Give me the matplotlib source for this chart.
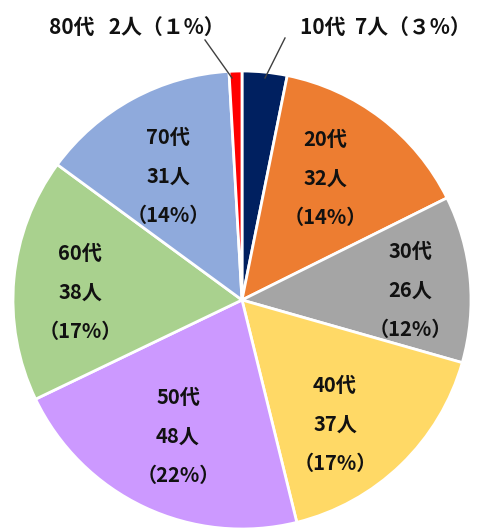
import matplotlib.pyplot as plt

plt.rcParams['font.family'] = ['Noto Sans CJK JP', 'DejaVu Sans']

ages = ["10代", "20代", "30代", "40代", "50代", "60代", "70代", "80代"]
counts = [7, 32, 26, 37, 48, 38, 31, 2]
pcts = [3, 14, 12, 17, 22, 17, 14, 1]
outer_pct = ["３", "", "", "", "", "", "", "１"]
colors = ["#002060", "#ED7D31", "#A5A5A5", "#FFD966",
          "#CC99FF", "#A9D18E", "#8FAADC", "#FF0000"]

W, H = 489, 529
fig = plt.figure(figsize=(W / 100, H / 100), dpi=100)
ax = fig.add_axes([0, 0, 1, 1])

cx, cy, r = 242, 300, 229
# y axis is inverted below, so counterclock=True draws clockwise on screen
ax.pie(counts, colors=colors, startangle=-90, counterclock=True,
       center=(cx, cy), radius=r, frame=True,
       wedgeprops=dict(edgecolor='white', linewidth=2))
ax.set_xlim(0, W)
ax.set_ylim(H, 0)
ax.set_aspect('equal')
ax.axis('off')

# inner labels (center x, first line y) in pixels
inner_pos = {1: (325, 140), 2: (410, 252), 3: (335, 386),
             4: (178, 398), 5: (80, 254), 6: (168, 138)}
for i, (x, y) in inner_pos.items():
    lines = [ages[i], f"{counts[i]}人", f"（{pcts[i]}%）"]
    for k, s in enumerate(lines):
        ax.text(x, y + k * 38.5, s, ha='center', va='center',
                fontsize=14.5, fontweight='bold', color='#111111')

# outer labels with leader lines
ax.text(137, 27, f"{ages[7]}   {counts[7]}人（{outer_pct[7]}%）", ha='center', va='center',
        fontsize=15, fontweight='bold', color='#111111')
ax.plot([205, 232], [40, 78], color='#404040', lw=1)
ax.text(385, 27, f"{ages[0]}  {counts[0]}人（{outer_pct[0]}%）", ha='center', va='center',
        fontsize=15, fontweight='bold', color='#111111')
ax.plot([285, 265], [38, 78], color='#404040', lw=1)

fig.savefig("out.png", dpi=100)
